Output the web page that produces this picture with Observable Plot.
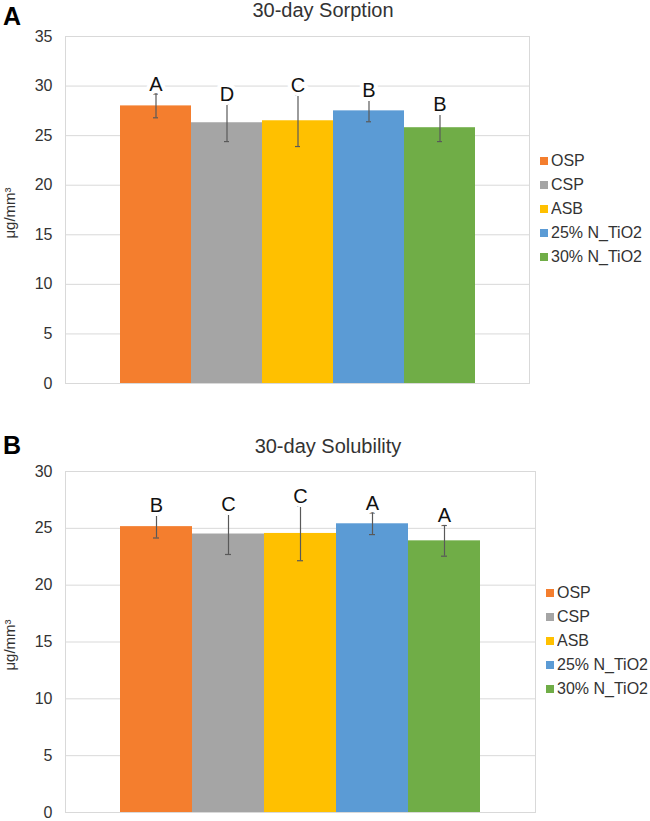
<!DOCTYPE html>
<html><head><meta charset="utf-8">
<script src="https://cdn.jsdelivr.net/npm/d3@7"></script>
<script src="https://cdn.jsdelivr.net/npm/@observablehq/plot@0.6"></script>
<style>
body{margin:0;background:#fff;font-family:"Liberation Sans",Arial,sans-serif;}
#root{position:relative;width:650px;height:821px;overflow:hidden;background:#fff;}
.abs{position:absolute;white-space:nowrap;}
.letter{font-weight:bold;font-size:25px;line-height:25px;color:#000;}
.title{font-size:20px;color:#333;transform:translate(-50%,-50%);line-height:20px;}
.ylab{font-size:15px;color:#333;transform:translate(-50%,-50%) rotate(-90deg);line-height:16px;}
.legend{font-size:16px;color:#333;}
.legend .row{display:flex;align-items:center;height:24px;}
.legend .sw{width:8px;height:8px;margin-right:3px;flex:none;}
.legend .txt{display:inline-block;transform:scaleY(1.08);}
.plotwrap{position:absolute;left:0;}
</style></head><body><div id="root"></div>
<script>
const categories = ["OSP", "CSP", "ASB", "25% N_TiO2", "30% N_TiO2"];
const colors = ["#F47E2E", "#A5A5A5", "#FFC000", "#5B9BD5", "#70AD47"];

const sorptionMean = [28.0, 26.3, 26.5, 27.5, 25.8];
const sorptionSD = [1.2, 1.9, 2.6, 1.1, 1.4];
const sorptionLetters = ["A", "D", "C", "B", "B"];
const sorptionTicks = [0, 5, 10, 15, 20, 25, 30, 35];

const solubilityMean = [25.15, 24.5, 24.55, 25.4, 23.9];
const solubilitySD = [1.0, 1.8, 2.4, 0.95, 1.35];
const solubilityLetters = ["B", "C", "C", "A", "A"];
const solubilityTicks = [0, 5, 10, 15, 20, 25, 30];

const yLabel = "μg/mm³";

const root = document.getElementById("root");

function addDiv(cls, text, css) {
  const d = document.createElement("div");
  d.className = "abs " + cls;
  d.textContent = text;
  Object.assign(d.style, css);
  root.appendChild(d);
  return d;
}

function makePanel(cfg) {
  const data = categories.map((c, i) => ({cat: c, mean: cfg.means[i], sd: cfg.sds[i], letter: cfg.letters[i]}));
  const chart = Plot.plot({
    width: 650,
    height: cfg.height,
    marginTop: cfg.marginTop,
    marginBottom: cfg.marginBottom,
    marginLeft: 65,
    marginRight: cfg.marginRight,
    style: {fontFamily: '"Liberation Sans", Arial, sans-serif', fontSize: "16px", color: "#333", background: "transparent", overflow: "visible"},
    x: {domain: categories, paddingInner: 0, paddingOuter: cfg.paddingOuter, axis: null},
    y: {domain: [0, cfg.ticks[cfg.ticks.length - 1]], axis: null},
    color: {domain: categories, range: colors},
    marks: [
      Plot.gridY(cfg.ticks, {stroke: "#d9d9d9", strokeOpacity: 1, strokeWidth: 1}),
      Plot.frame({stroke: "#d9d9d9", strokeWidth: 1}),
      Plot.axisY(cfg.ticks, {tickSize: 0, tickPadding: 13, label: null, fontSize: 16, fill: "#333"}),
      Plot.barY(data, {x: "cat", y: "mean", fill: "cat"}),
      Plot.ruleX(data, {x: "cat", y1: d => d.mean - d.sd, y2: d => d.mean + d.sd, stroke: "#595959", strokeWidth: 1.2}),
      Plot.tickY(data, {x: "cat", y: d => d.mean - d.sd, stroke: "#595959", strokeWidth: 1.2, insetLeft: 33, insetRight: 33}),
      Plot.tickY(data, {x: "cat", y: d => d.mean + d.sd, stroke: "#595959", strokeWidth: 1.2, insetLeft: 33, insetRight: 33}),
      Plot.text(data, {x: "cat", y: d => d.mean + d.sd, text: "letter", dy: -3, lineAnchor: "bottom", fontSize: 20, fill: "#111", stroke: "white", strokeWidth: 8})
    ]
  });
  const wrap = document.createElement("div");
  wrap.className = "plotwrap";
  wrap.style.top = cfg.top + "px";
  wrap.appendChild(chart);
  root.appendChild(wrap);

  addDiv("letter", cfg.panel, {left: "3px", top: cfg.letterTop + "px"});
  addDiv("title", cfg.title, {left: cfg.titleX + "px", top: cfg.titleY + "px"});
  addDiv("ylab", yLabel, {left: "10px", top: cfg.ylabY + "px"});

  const lg = document.createElement("div");
  lg.className = "abs legend";
  lg.style.left = cfg.legendX + "px";
  lg.style.top = cfg.legendY + "px";
  categories.forEach((c, i) => {
    const row = document.createElement("div");
    row.className = "row";
    const sw = document.createElement("span");
    sw.className = "sw";
    sw.style.background = colors[i];
    const t = document.createElement("span");
    t.className = "txt";
    t.textContent = c;
    row.appendChild(sw);
    row.appendChild(t);
    lg.appendChild(row);
  });
  root.appendChild(lg);
}

makePanel({
  panel: "A", title: "30-day Sorption",
  means: sorptionMean, sds: sorptionSD, letters: sorptionLetters, ticks: sorptionTicks,
  top: 0, height: 395, marginTop: 36, marginBottom: 12, marginRight: 121, paddingOuter: 0.745,
  letterTop: 4, titleX: 323, titleY: 10, ylabY: 213, legendX: 540, legendY: 149
});

makePanel({
  panel: "B", title: "30-day Solubility",
  means: solubilityMean, sds: solubilitySD, letters: solubilityLetters, ticks: solubilityTicks,
  top: 430, height: 391, marginTop: 41, marginBottom: 9, marginRight: 115, paddingOuter: 0.76,
  letterTop: 433, titleX: 328, titleY: 446, ylabY: 645, legendX: 546, legendY: 581
});
</script>
</body></html>
